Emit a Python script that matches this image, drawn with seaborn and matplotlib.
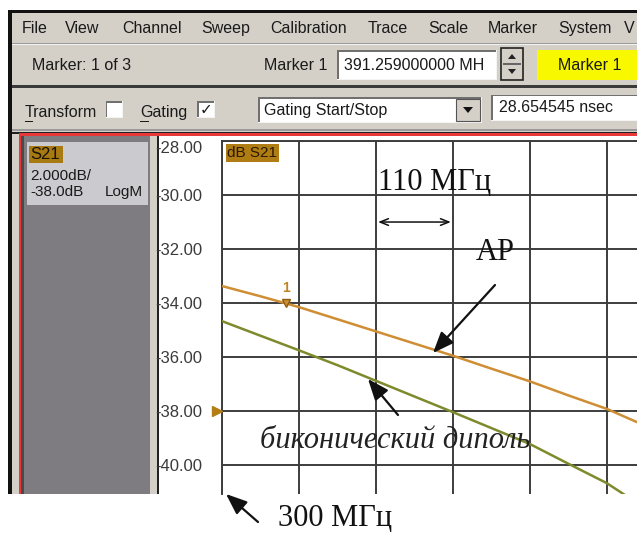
import matplotlib
matplotlib.use("Agg")
import matplotlib.pyplot as plt
from matplotlib.patches import Rectangle, FancyArrowPatch, Polygon
from matplotlib.transforms import blended_transform_factory
import pandas as pd
import seaborn as sns

# ---- measured S21 traces ----
freq_mhz = [300, 355, 410, 465, 520, 575, 630, 685, 740, 795, 850, 893]
s21_ar_db = [-33.37, -33.75, -34.15, -34.60, -35.05, -35.50, -35.95,
             -36.43, -36.90, -37.42, -37.92, -38.41]
s21_bicone_db = [-34.67, -35.21, -35.75, -36.30, -36.88, -37.46, -38.04,
                 -38.63, -39.22, -39.95, -40.67, -41.40]
trace_names = ["АР", "биконический диполь"]
trace_colors = ["#cf8e34", "#7f8a2c"]

y_ticks = [-28, -30, -32, -34, -36, -38, -40]
x_start_mhz = 300
x_div_mhz = 110
ref_level_db = -38.0
marker_freq_mhz = 391.259
marker_db = -34.0

menu_items = ["File", "View", "Channel", "Sweep", "Calibration", "Trace",
              "Scale", "Marker", "System", "V"]
menu_x = [22, 65, 122, 201, 270, 368, 428, 488, 558, 624]

sns.set_theme(style="white")
plt.rcParams["font.family"] = ["Liberation Sans", "DejaVu Sans"]

W, H = 637, 535
fig = plt.figure(figsize=(W / 100, H / 100), dpi=100)
fig.patch.set_facecolor("white")


def fx(x):
    return x / W


def fy(y):
    return 1 - y / H


def rect(x0, y0, x1, y1, fc, ec="none", lw=0.0, z=1):
    fig.patches.append(Rectangle((fx(x0), fy(y1)), fx(x1) - fx(x0), fy(y0) - fy(y1),
                                 transform=fig.transFigure, facecolor=fc,
                                 edgecolor=ec, linewidth=lw, zorder=z))


def sunken(x0, y0, x1, y1, fc="white", z=2):
    rect(x0, y0, x1, y1, fc, z=z)
    rect(x0, y0, x1, y0 + 1.5, "#707070", z=z + 0.1)
    rect(x0, y0, x0 + 1.5, y1, "#707070", z=z + 0.1)
    rect(x0, y1 - 1, x1, y1, "#f4f4f4", z=z + 0.1)
    rect(x1 - 1, y0, x1, y1, "#f4f4f4", z=z + 0.1)


def label(x, y, s, size=11.5, ha="left", va="center", color="#1a1a1a", z=5, **kw):
    fig.text(fx(x), fy(y), s, fontsize=size, ha=ha, va=va, color=color, zorder=z, **kw)


ui_gray = "#d4d0c8"

# ---- window frame and toolbars ----
rect(8, 10, W, 494, ui_gray, z=0.5)
rect(8, 10, W, 12.5, "#111111", z=1)
rect(8, 10, 11.5, 494, "#111111", z=1)
rect(11.5, 43, W, 44, "#9a9a9a", z=1)
rect(11.5, 44, W, 45, "#f4f4f4", z=1)
rect(11.5, 85, W, 87.5, "#3a3a3a", z=1)
rect(11.5, 129, W, 131, "#9a9a9a", z=1)
rect(11.5, 131.5, W, 133.5, "#202020", z=1)
rect(18.5, 133.5, W, 136, "#e8383a", z=1)
rect(18.5, 133.5, 21, 494, "#e8383a", z=1)
rect(21, 136, 23.5, 494, "#4a4a4a", z=1)
rect(23.5, 136, 150, 494, "#7e7c80", z=1)
rect(150, 136, 157, 494, ui_gray, z=1)
rect(157, 136, 159.5, 494, "#222222", z=1)
rect(159.5, 136, W, 494, "white", z=1)

# menu bar
for name, x in zip(menu_items, menu_x):
    label(x, 28.5, name, size=11.5)

# marker row
label(32, 66, "Marker: 1 of 3", size=11.5)
label(264, 66, "Marker 1", size=11.5)
sunken(337, 50, 497, 80)
label(344, 65.5, "391.259000000 MH", size=11.5)
rect(501, 48, 523, 80, ui_gray, ec="#222222", lw=1.2, z=2)
rect(503, 63.5, 521, 64.5, "#666666", z=2.2)
fig.patches.append(Polygon([[fx(508), fy(59)], [fx(516), fy(59)], [fx(512), fy(54)]],
                           closed=True, transform=fig.transFigure, fc="#222222", ec="none", zorder=3))
fig.patches.append(Polygon([[fx(508), fy(69)], [fx(516), fy(69)], [fx(512), fy(74)]],
                           closed=True, transform=fig.transFigure, fc="#222222", ec="none", zorder=3))
rect(537, 50, W, 80, "#f8f800", z=2)
label(590, 66, "Marker 1", size=11.5, ha="center")

# transform / gating row
label(25, 112.5, "Transform", size=11.5)
rect(25, 121, 32.5, 122, "#1a1a1a", z=5)
sunken(106, 101, 123, 118)
label(140, 112.5, "Gating", size=11.5)
rect(140, 121, 149, 122, "#1a1a1a", z=5)
sunken(197, 101, 215, 118)
label(206, 110, "\u2713", size=11, ha="center", family=["DejaVu Sans"], fontweight="bold")
sunken(258, 97, 482, 123)
label(264, 110, "Gating Start/Stop", size=11.5)
rect(456, 99.5, 480, 121, ui_gray, ec="#555555", lw=0.8, z=3)
fig.patches.append(Polygon([[fx(463), fy(107)], [fx(473), fy(107)], [fx(468), fy(113)]],
                           closed=True, transform=fig.transFigure, fc="#111111", ec="none", zorder=4))
sunken(491, 95, W + 2, 121)
label(499, 108, "28.654545 nsec", size=11.5)

# trace info panel
rect(27, 142, 148, 205, "#cbcacf", z=2)
rect(29, 146, 63, 163, "#a87a12", z=3)
label(30, 155, "S21", size=12, color="#1a1205")
label(30, 176, "2.000dB/", size=11)
label(30, 192, "-38.0dB", size=11)
label(143, 192, "LogM", size=11, ha="right")

# ---- S21 log-magnitude plot ----
ax = fig.add_axes([fx(222), fy(494), fx(637) - fx(222), fy(141) - fy(494)])
ax.set_facecolor("white")
ax.set_zorder(3)

df = pd.DataFrame({
    "freq": freq_mhz * 2,
    "db": s21_ar_db + s21_bicone_db,
    "trace": [trace_names[0]] * len(freq_mhz) + [trace_names[1]] * len(freq_mhz),
})
sns.lineplot(data=df, x="freq", y="db", hue="trace",
             palette=dict(zip(trace_names, trace_colors)),
             legend=False, ax=ax, linewidth=1.8, zorder=4)

ax.set_xlim(x_start_mhz, 893)
ax.set_ylim(-41.07, -28)
ax.set_xticks([x_start_mhz + x_div_mhz * k for k in range(6)])
ax.set_xticklabels([])
ax.set_yticks(y_ticks)
ax.set_yticklabels([f"{v:.2f}" for v in y_ticks])
ax.set_xlabel("")
ax.set_ylabel("")
ax.tick_params(axis="both", length=0)
ax.tick_params(axis="y", pad=14, labelsize=12, labelcolor="#3a3a3a")
ax.get_yticklabels()[0].set_verticalalignment("top")
ax.grid(True, color="#3d3d3d", linewidth=1.4)
for side in ["right", "bottom"]:
    ax.spines[side].set_visible(False)
for side in ["left", "top"]:
    ax.spines[side].set_color("#3d3d3d")
    ax.spines[side].set_linewidth(1.4)

# reference level arrow on the left edge
blend = blended_transform_factory(ax.transAxes, ax.transData)
ax.plot([-0.011], [ref_level_db], marker=">", markersize=7, color="#b47e14",
        transform=blend, clip_on=False, zorder=6)

# marker 1
ax.plot([marker_freq_mhz], [marker_db], marker="v", markersize=5.5,
        color=trace_colors[0], markeredgecolor="#8a5e10", zorder=6)
ax.annotate("1", (marker_freq_mhz, marker_db), xytext=(0, 6), textcoords="offset points",
            ha="center", va="bottom", fontsize=10, color="#c08420", fontweight="bold")

# trace title tag
ax.text(0.013, 0.985, "dB S21", transform=ax.transAxes, ha="left", va="top",
        fontsize=11, color="#2a1a00", zorder=7,
        bbox=dict(boxstyle="square,pad=0.12", fc="#b07d14", ec="none"))

# span of one division
ax.annotate("", xy=(x_start_mhz + 2 * x_div_mhz + 3, -31.0),
            xytext=(x_start_mhz + 3 * x_div_mhz - 3, -31.0),
            arrowprops=dict(arrowstyle="<->,head_length=0.5,head_width=0.2",
                            lw=1.1, color="#111111", shrinkA=0, shrinkB=0))

# ---- annotations ----
serif = ["Liberation Serif", "DejaVu Serif"]
label(435, 183, "110 МГц", size=22, ha="center", color="#111111", family=serif, z=8)
label(495, 252, "АР", size=22, ha="center", color="#111111", family=serif, z=8)
label(395, 440, "биконический диполь", size=22, ha="center", color="#222222",
      family=serif, style="italic", z=8)
label(335, 518, "300 МГц", size=22, ha="center", color="#111111", family=serif, z=8)


def arrow(x0, y0, x1, y1):
    fig.add_artist(FancyArrowPatch((fx(x0), fy(y0)), (fx(x1), fy(y1)),
                                   transform=fig.transFigure,
                                   arrowstyle="-|>,head_length=0.8,head_width=0.32",
                                   mutation_scale=16, lw=1.6, color="#111111",
                                   shrinkA=0, shrinkB=0, zorder=9))


arrow(495, 285, 433, 353)
arrow(398, 415, 368, 379)
arrow(258, 522, 226, 494)

fig.savefig("out.png", dpi=100, facecolor="white")
